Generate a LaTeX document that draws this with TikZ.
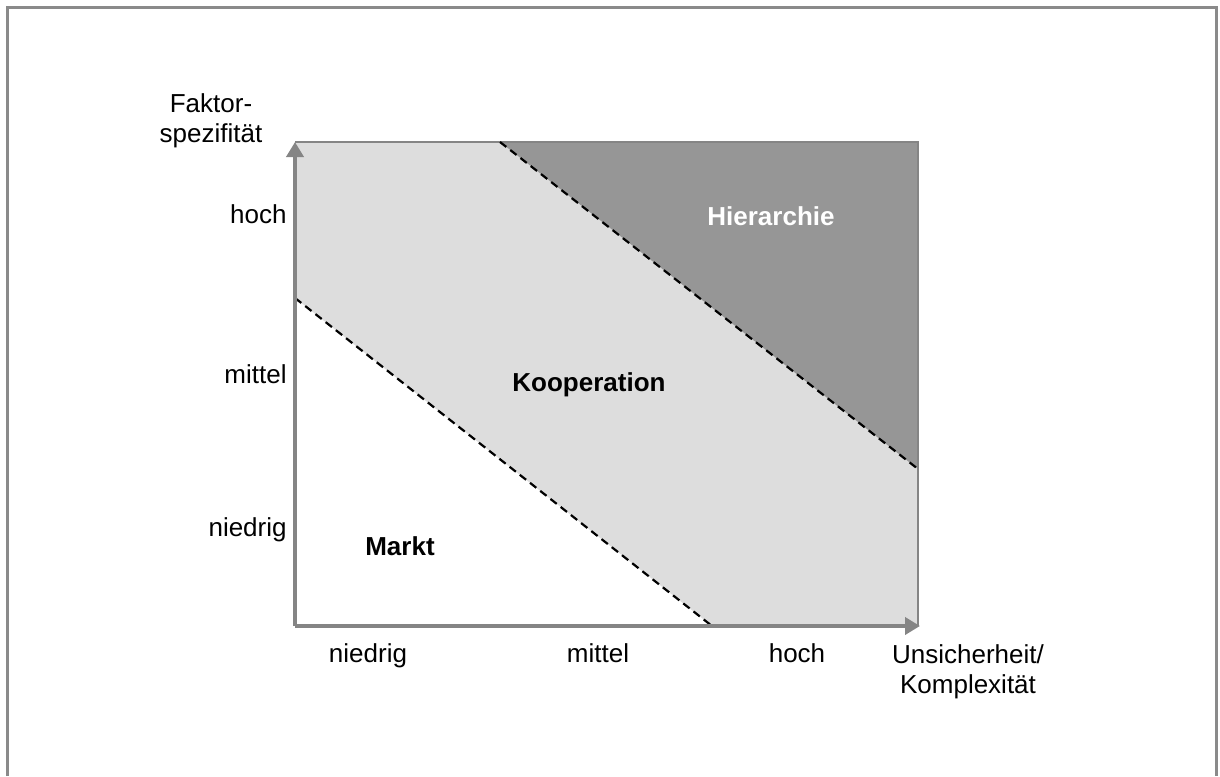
\documentclass[tikz,border=0pt]{standalone}
\usepackage{fontspec}
\setmainfont{Liberation Sans}
\usetikzlibrary{arrows.meta}
\definecolor{axisgray}{HTML}{858585}
\definecolor{framegray}{HTML}{8A8A8A}
\definecolor{coopfill}{HTML}{DDDDDD}
\definecolor{hierfill}{HTML}{969696}
\tikzset{
  lbl/.style={font=\fontsize{13}{14.75}\selectfont, inner sep=0pt},
  region/.style={font=\fontsize{13}{14.75}\selectfont\bfseries, inner sep=0pt},
  axis/.style={draw=axisgray, line width=2pt, -{Triangle[width=8.5pt,length=7.5pt]}},
  border/.style={draw=axisgray, line width=0.9pt},
  bound/.style={draw=black, line width=1.1pt, dash pattern=on 4pt off 2.5pt},
}
\begin{document}
\begin{tikzpicture}[x=0.5pt, y=-0.5pt]
\useasboundingbox (0,0) rectangle (1220,776);
% outer frame, open at the bottom
\draw[draw=framegray, line width=1.5pt] (7,776) -- (7,7) -- (1216,7) -- (1216,776);

% corner points of the diagram
\coordinate (O) at (295,626);
\coordinate (Ytop) at (295,142);
\coordinate (Xend) at (920,626);
\coordinate (TR) at (918,142);
\coordinate (BR) at (918,626);
\coordinate (hA) at (500,142);
\coordinate (hB) at (918,469);
\coordinate (mA) at (295,298);
\coordinate (mB) at (712,626);

% regions
\fill[coopfill] (Ytop) -- (hA) -- (hB) -- (BR) -- (mB) -- (mA) -- cycle;
\fill[hierfill] (hA) -- (TR) -- (hB) -- cycle;

% box outline
\draw[border] (Ytop) -- (TR) -- (BR);

% boundaries between the governance forms
\draw[bound] (hA) -- (hB);
\draw[bound] (mA) -- (mB);

% axes
\draw[axis] (O) -- (Ytop);
\draw[axis] (O) -- (Xend);

% axis titles
\node[lbl, align=center] (ytitle) at (211,121) {Faktor-\\spezifität};
\node[lbl, align=center] (xtitle) at (968,672) {Unsicherheit/\\Komplexität};

% y tick labels
\node[lbl, anchor=base east] (yh) at (287,223) {hoch};
\node[lbl, anchor=base east] (ym) at (287,383) {mittel};
\node[lbl, anchor=base east] (yn) at (287,536) {niedrig};

% x tick labels
\node[lbl, anchor=base] (xn) at (368,662) {niedrig};
\node[lbl, anchor=base] (xm) at (598,662) {mittel};
\node[lbl, anchor=base] (xh) at (797,662) {hoch};

% region labels
\node[region, text=white, anchor=base] (hier) at (771,225) {Hierarchie};
\node[region, anchor=base] (koop) at (589,391) {Kooperation};
\node[region, anchor=base] (markt) at (400,555) {Markt};
\end{tikzpicture}
\end{document}
